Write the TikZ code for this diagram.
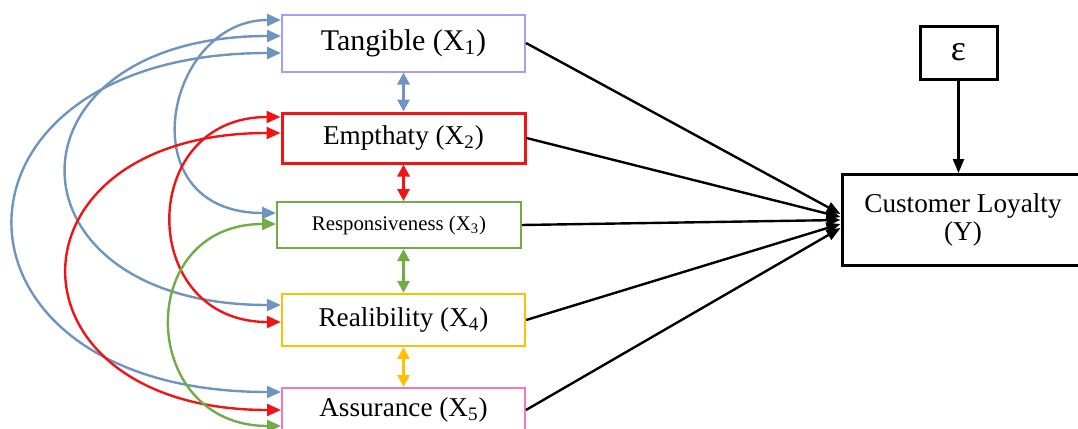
\documentclass[tikz,border=0pt]{standalone}
\usepackage{fontspec}
\setmainfont{Liberation Serif}
\usepackage{xcolor}
\usetikzlibrary{calc,arrows.meta}

\definecolor{tanBlue}{RGB}{160,160,245}
\definecolor{corBlue}{RGB}{112,148,192}
\definecolor{corRed}{RGB}{240,20,20}
\definecolor{corGreen}{RGB}{112,173,71}
\definecolor{corGold}{RGB}{255,192,0}
\definecolor{assPink}{RGB}{240,120,190}

\begin{document}
\begin{tikzpicture}[x=0.5pt,y=-0.5pt,
    box/.style={draw, line width=1pt, fill=white, inner sep=0pt, align=center,
                font=\fontsize{13.6}{14}\selectfont},
    corr/.style={line width=1.2pt,
                 {Triangle[length=7pt,width=6pt]}-{Triangle[length=7pt,width=6pt]}},
    link/.style={line width=1.5pt,
                 {Triangle[length=6pt,width=6pt]}-{Triangle[length=6pt,width=6pt]}},
    effect/.style={line width=1.2pt, black, -{Triangle[length=7pt,width=5.5pt]}}]

\clip (0,0) rectangle (1078,429);

% =====================
% Dimensions (X1 ... X5)
% =====================
\node[box, draw=tanBlue, minimum width=121.5pt, minimum height=28.5pt,
      font=\fontsize{15}{18}\selectfont]
    (tang) at (403.5,43) {Tangible (X\textsubscript{1})};

\node[box, draw=corRed, line width=1.5pt, minimum width=121.5pt, minimum height=25pt]
    (emp) at (403.5,138) {Empthaty (X\textsubscript{2})};

\node[box, draw=corGreen, minimum width=122pt, minimum height=23pt,
      font=\fontsize{10.4}{12}\selectfont]
    (resp) at (399,225) {Responsiveness (X\textsubscript{3})};

\node[box, draw=corGold, line width=1.2pt, minimum width=121.5pt, minimum height=26pt]
    (real) at (403.5,320) {Realibility (X\textsubscript{4})};

\node[box, draw=assPink, minimum width=121.5pt, minimum height=22pt]
    (assur) at (403.5,410) {Assurance (X\textsubscript{5})};

% =====================
% Dependent variable and error
% =====================
\node[box, line width=1.5pt, minimum width=121pt, minimum height=45.5pt]
    (cust) at (963,220) {Customer Loyalty\\(Y)};

\node[box, line width=1.5pt, minimum width=38.5pt, minimum height=26.5pt,
      font=\fontsize{18}{18}\selectfont]
    (eps) at (958.5,52.5) {ε};

% =====================
% Links between neighbours
% =====================
\draw[link, corBlue]  (tang.south) -- (emp.north);
\draw[link, corRed]   (emp.south) -- (emp.south |- resp.north);
\draw[link, corGreen] (emp.south |- resp.south) -- (real.north);
\draw[link, corGold]  (real.south) -- (assur.north);

% =====================
% Correlations (left side)
% =====================
\draw[corr, corBlue] ($(tang.west)+(0,-23)$)
    .. controls +(-116,0) and +(-150,0) .. ($(resp.west)+(0,-12)$);
\draw[corr, corBlue] ($(tang.west)+(0,-7)$)
    .. controls +(-284,0) and +(-284,0) .. ($(real.west)+(0,-15)$);
\draw[corr, corBlue] ($(tang.west)+(0,10)$)
    .. controls +(-355,0) and +(-355,0) .. ($(assur.west)+(0,-18)$);

\draw[corr, corRed] ($(emp.west)+(0,-21)$)
    .. controls +(-144,0) and +(-144,0) .. ($(real.west)+(0,2)$);
\draw[corr, corRed] ($(emp.west)+(0,-5)$)
    .. controls +(-283,0) and +(-283,0) .. (assur.west);

\draw[corr, corGreen] ($(resp.west)+(0,-1)$)
    .. controls +(-143,0) and +(-143,0) .. ($(assur.west)+(0,16)$);

% =====================
% Effects on Y
% =====================
\draw[effect] (tang.east)  -- ($(cust.west)+(0,-6)$);
\draw[effect] (emp.east)   -- ($(cust.west)+(0,-3)$);
\draw[effect] (resp.east)  -- ($(cust.west)+(0,0)$);
\draw[effect] (real.east)  -- ($(cust.west)+(0,4)$);
\draw[effect] (assur.east) -- ($(cust.west)+(0,8)$);

\draw[effect] (eps.south) -- (eps.south |- cust.north);

\end{tikzpicture}
\end{document}
